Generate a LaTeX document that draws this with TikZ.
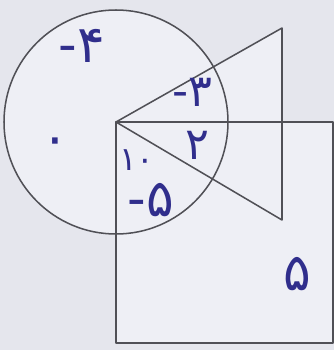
\documentclass[tikz,border=0pt]{standalone}
\usepackage{fontspec}
\usepackage{xcolor}
\usetikzlibrary{positioning,calc}
\newfontfamily\persianfont{DejaVu Sans}
\definecolor{paper}{RGB}{229,230,237}
\definecolor{inner}{RGB}{238,239,245}
\definecolor{pencil}{RGB}{80,80,86}
\definecolor{ink}{RGB}{48,46,140}
\tikzset{
	outline/.style={draw=pencil, line width=1.3pt, line join=round},
	digit/.style={text=ink, font=\persianfont\fontsize{44}{44}\selectfont, inner sep=0pt},
	middigit/.style={digit, font=\persianfont\fontsize{38}{38}\selectfont},
	smalldigit/.style={digit, font=\persianfont\fontsize{28}{28}\selectfont}
}

\begin{document}
\begin{tikzpicture}[x=0.3mm, y=-0.3mm]

	%% -- Paper and frame
	\fill[paper] (0,0) rectangle (334,350);
	\useasboundingbox (0,0) rectangle (334,350);

	%% -- Key points
	\coordinate (apex) at (116,122);
	\coordinate (tritop) at (282,28);
	\coordinate (tribot) at (282,220);
	\coordinate (sqcorner) at (333,343);

	%% -- Light insides
	\fill[inner] (apex) circle (112);
	\fill[inner] (apex) rectangle (sqcorner);
	\fill[inner] (apex) -- (tritop) -- (tribot) -- cycle;

	%% -- Outlines
	\draw[outline] (apex) circle (112);
	\draw[outline] (apex) -- (tritop) -- (tribot) -- cycle;
	\draw[outline] (apex) rectangle (sqcorner);

	%% -- Numbers
	\node[digit] (mfour) at (82,46) {-۴};
	\node[digit] (zero) at (55,147) {۰};
	\node[middigit] (mthree) at (192,92) {-۳};
	\node[middigit] (two) at (197,145) {۲};
	\node[smalldigit] (ten) at (137,160) {۱۰};
	\node[digit] (mfive) at (151,200) {-۵};
	\node[digit] (five) at (297,274) {۵};

\end{tikzpicture}
\end{document}
